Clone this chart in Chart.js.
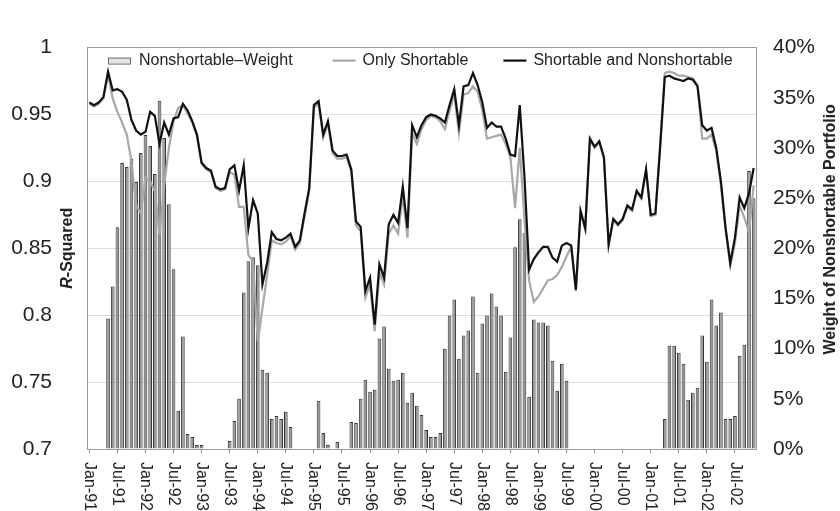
<!DOCTYPE html>
<html>
<head>
<meta charset="utf-8">
<script src="https://cdn.jsdelivr.net/npm/chart.js@4.4.1/dist/chart.umd.min.js"></script>
<style>
  html, body { margin: 0; padding: 0; background: #ffffff; }
  canvas { display: block; }
</style>
</head>
<body>
<canvas id="chart" width="840" height="511"></canvas>
<script>
// Monthly categories, Jan-91 through Nov-02
const monthNames = ['Jan','Feb','Mar','Apr','May','Jun','Jul','Aug','Sep','Oct','Nov','Dec'];
const firstYear = 1991;
const monthCount = 143;
const categories = [];
for (let k = 0; k < monthCount; k++) {
  const yr = firstYear + Math.floor(k / 12);
  categories.push(monthNames[k % 12] + '-' + String(yr % 100).padStart(2, '0'));
}

// Weight of the nonshortable portfolio (%), one row per year
const nonshortableWeight = [
  0, 0, 0, 0, 13.0, 16.2, 22.1, 28.5, 28.1, 28.9, 26.6, 29.5,
  31.3, 30.2, 27.4, 34.7, 31.0, 24.4, 17.9, 3.8, 11.2, 1.5, 1.2, 0.4,
  0.4, 0, 0, 0, 0, 0, 0.8, 2.8, 5.0, 15.6, 18.7, 19.1,
  18.3, 7.9, 7.6, 3.0, 3.3, 3.0, 3.7, 2.2, 0, 0, 0, 0,
  0, 4.8, 1.6, 0.4, 0, 0.7, 0, 0, 2.7, 2.6, 5.0, 6.9,
  5.7, 5.9, 11.0, 12.2, 8.0, 6.8, 6.9, 7.6, 4.6, 5.6, 4.3, 3.4,
  1.9, 1.2, 1.2, 1.6, 10.0, 13.3, 14.9, 9.0, 11.3, 11.8, 15.2, 7.6,
  12.5, 13.3, 15.5, 14.2, 13.3, 7.7, 11.1, 20.1, 22.9, 21.5, 5.2, 12.9,
  12.6, 12.6, 12.3, 8.8, 5.8, 8.5, 6.8, 0, 0, 0, 0, 0,
  0, 0, 0, 0, 0, 0, 0, 0, 0, 0, 0, 0,
  0, 0, 0, 3.0, 10.3, 10.3, 9.6, 8.5, 4.9, 5.6, 6.1, 11.3,
  8.7, 14.9, 12.3, 13.6, 3.0, 3.0, 3.3, 9.3, 10.4, 27.7, 25.0
];

// R-squared using only shortable assets
const onlyShortable = [
  0.958, 0.956, 0.958, 0.962, 0.980, 0.962, 0.952, 0.944, 0.935, 0.915, 0.882, 0.876,
  0.903, 0.900, 0.893, 0.860, 0.897, 0.925, 0.945, 0.955, 0.957, 0.951, 0.944, 0.934,
  0.913, 0.909, 0.907, 0.895, 0.893, 0.894, 0.907, 0.905, 0.881, 0.881, 0.845, 0.840,
  0.780, 0.805, 0.830, 0.856, 0.854, 0.853, 0.855, 0.859, 0.849, 0.854, 0.874, 0.893,
  0.955, 0.958, 0.933, 0.943, 0.921, 0.917, 0.917, 0.918, 0.907, 0.867, 0.863, 0.813,
  0.823, 0.788, 0.832, 0.823, 0.861, 0.867, 0.861, 0.889, 0.858, 0.936, 0.928, 0.939,
  0.946, 0.949, 0.948, 0.945, 0.939, 0.953, 0.965, 0.936, 0.965, 0.966, 0.971, 0.967,
  0.953, 0.932, 0.933, 0.934, 0.935, 0.928, 0.918, 0.880, 0.925, 0.872, 0.826, 0.810,
  0.814, 0.820, 0.826, 0.827, 0.830, 0.836, 0.844, 0.851, 0.818, 0.877, 0.864, 0.931,
  0.925, 0.929, 0.917, 0.852, 0.871, 0.867, 0.871, 0.881, 0.878, 0.892, 0.887, 0.908,
  0.874, 0.875, 0.927, 0.981, 0.982, 0.981, 0.979, 0.979, 0.978, 0.977, 0.972, 0.932,
  0.932, 0.935, 0.923, 0.897, 0.864, 0.837, 0.854, 0.882, 0.873, 0.862, 0.897
];

// R-squared using shortable and nonshortable assets
const shortableAndNonshortable = [
  0.959, 0.957, 0.959, 0.963, 0.982, 0.968, 0.969, 0.967, 0.961, 0.946, 0.938, 0.935,
  0.937, 0.952, 0.949, 0.928, 0.944, 0.935, 0.947, 0.948, 0.958, 0.953, 0.945, 0.935,
  0.914, 0.910, 0.908, 0.896, 0.894, 0.895, 0.909, 0.912, 0.893, 0.912, 0.865, 0.886,
  0.876, 0.823, 0.839, 0.862, 0.857, 0.856, 0.858, 0.861, 0.851, 0.856, 0.876, 0.895,
  0.957, 0.960, 0.935, 0.945, 0.923, 0.919, 0.919, 0.920, 0.909, 0.870, 0.866, 0.818,
  0.828, 0.793, 0.838, 0.828, 0.868, 0.875, 0.869, 0.896, 0.865, 0.942, 0.933, 0.942,
  0.948, 0.950, 0.949, 0.947, 0.944, 0.957, 0.969, 0.942, 0.971, 0.972, 0.981, 0.972,
  0.959, 0.940, 0.944, 0.941, 0.941, 0.932, 0.920, 0.919, 0.957, 0.904, 0.834, 0.842,
  0.847, 0.851, 0.851, 0.843, 0.840, 0.852, 0.854, 0.852, 0.819, 0.878, 0.865, 0.932,
  0.926, 0.930, 0.918, 0.853, 0.872, 0.868, 0.872, 0.882, 0.879, 0.893, 0.888, 0.909,
  0.875, 0.876, 0.925, 0.978, 0.979, 0.977, 0.976, 0.975, 0.977, 0.976, 0.971, 0.942,
  0.938, 0.940, 0.925, 0.900, 0.865, 0.839, 0.858, 0.888, 0.880, 0.891, 0.910
];

// Axis tick labels
const leftTickLabels = ['0.7', '0.75', '0.8', '0.85', '0.9', '0.95', '1'];
const rightTickLabels = ['0%', '5%', '10%', '15%', '20%', '25%', '30%', '35%', '40%'];
const xLabelEvery = 6;

const FONT = '"Liberation Sans", Arial, Helvetica, sans-serif';
const TEXT = '#222222';
const FRAME = '#9a9a9a';
Chart.defaults.font.family = FONT;

// Month labels under the axis, turned to read top-to-bottom
const monthLabels = {
  id: 'monthLabels',
  afterDraw(chart) {
    const ctx = chart.ctx, xs = chart.scales.x, area = chart.chartArea;
    ctx.save();
    ctx.font = '16px ' + FONT;
    ctx.fillStyle = TEXT;
    ctx.textAlign = 'left';
    ctx.textBaseline = 'middle';
    categories.forEach((lab, i) => {
      if (i % xLabelEvery !== 0) return;
      const x = xs.getPixelForValue(i);
      ctx.save();
      ctx.translate(x, area.bottom + 13);
      ctx.rotate(Math.PI / 2);
      ctx.fillText(lab, 0, 0);
      ctx.restore();
    });
    ctx.restore();
  }
};

// Axis titles: left one sits between the tick labels and the frame
const axisTitles = {
  id: 'axisTitles',
  afterDraw(chart) {
    const ctx = chart.ctx, a = chart.chartArea;
    ctx.save();
    ctx.fillStyle = TEXT;
    ctx.textBaseline = 'middle';
    ctx.textAlign = 'left';
    // R-Squared (italic R)
    const cy = (a.top + a.bottom) / 2;
    ctx.translate(a.left - 19, cy);
    ctx.rotate(-Math.PI / 2);
    ctx.font = 'italic bold 16px ' + FONT;
    const wR = ctx.measureText('R').width;
    ctx.font = 'bold 16px ' + FONT;
    const wRest = ctx.measureText('-Squared').width;
    const sx = -(wR + wRest) / 2;
    ctx.font = 'italic bold 16px ' + FONT;
    ctx.fillText('R', sx, 0);
    ctx.font = 'bold 16px ' + FONT;
    ctx.fillText('-Squared', sx + wR, 0);
    ctx.restore();

    ctx.save();
    ctx.fillStyle = TEXT;
    ctx.textBaseline = 'middle';
    ctx.textAlign = 'center';
    ctx.font = 'bold 16px ' + FONT;
    ctx.translate(a.right + 75, cy - 19);
    ctx.rotate(-Math.PI / 2);
    ctx.fillText('Weight of Nonshortable Portfolio', 0, 0);
    ctx.restore();
  }
};

// Legend drawn inside the top of the plot frame
const insideLegend = {
  id: 'insideLegend',
  afterDraw(chart) {
    const ctx = chart.ctx, a = chart.chartArea;
    const ds = chart.data.datasets;
    const gaps = [40, 35];
    let x = a.left + 21;
    const y = a.top + 13;
    ctx.save();
    ctx.font = '16px ' + FONT;
    ctx.textBaseline = 'middle';
    ctx.textAlign = 'left';
    ds.forEach((d, i) => {
      if (d.type === 'bar') {
        ctx.fillStyle = '#e4e4e4';
        ctx.fillRect(x, y - 3, 22, 6);
        ctx.strokeStyle = '#6f6f6f';
        ctx.lineWidth = 1;
        ctx.strokeRect(x + 0.5, y - 2.5, 22, 6);
        x += 31;
      } else {
        ctx.strokeStyle = d.borderColor;
        ctx.lineWidth = d.borderWidth;
        ctx.beginPath();
        ctx.moveTo(x, y);
        ctx.lineTo(x + 23, y);
        ctx.stroke();
        x += 30;
      }
      ctx.fillStyle = TEXT;
      ctx.fillText(d.label, x, y);
      x += ctx.measureText(d.label).width + (gaps[i] || 0);
    });
    ctx.restore();
  }
};

new Chart(document.getElementById('chart'), {
  data: {
    labels: categories,
    datasets: [
      {
        type: 'bar',
        label: 'Nonshortable\u2013Weight',
        data: nonshortableWeight,
        yAxisID: 'y1',
        backgroundColor: '#979797',
        borderColor: '#353535',
        borderWidth: 1,
        barPercentage: 0.78,
        categoryPercentage: 1,
        order: 3
      },
      {
        type: 'line',
        label: 'Only Shortable',
        data: onlyShortable,
        yAxisID: 'y',
        borderColor: '#a8a8a8',
        borderWidth: 2.2,
        pointRadius: 0,
        tension: 0,
        order: 2
      },
      {
        type: 'line',
        label: 'Shortable and Nonshortable',
        data: shortableAndNonshortable,
        yAxisID: 'y',
        borderColor: '#111111',
        borderWidth: 2.2,
        pointRadius: 0,
        tension: 0,
        order: 1
      }
    ]
  },
  options: {
    responsive: false,
    devicePixelRatio: 1,
    animation: false,
    layout: { padding: { top: 17, left: 0, right: 0, bottom: 0 } },
    plugins: { legend: { display: false }, tooltip: { enabled: false } },
    scales: {
      x: {
        type: 'category',
        offset: true,
        ticks: { display: false, autoSkip: false },
        grid: {
          offset: false,
          drawOnChartArea: false,
          drawTicks: true,
          tickLength: 4,
          color: (c) => (c.index % xLabelEvery === 0 ? '#8c8c8c' : 'rgba(0,0,0,0)')
        },
        border: { color: FRAME },
        afterFit(s) { s.height = 62; }
      },
      y: {
        position: 'left',
        min: 0.7,
        max: 1,
        ticks: {
          stepSize: 0.05,
          padding: 35,
          color: TEXT,
          font: { size: 21 },
          callback: (v, i) => leftTickLabels[i]
        },
        grid: {
          drawTicks: false,
          color: (c) => (c.tick && c.tick.value > 0.999 ? FRAME : '#dedede')
        },
        border: { color: FRAME },
        afterFit(s) { s.width = 87; }
      },
      y1: {
        position: 'right',
        min: 0,
        max: 40,
        ticks: {
          stepSize: 5,
          padding: 17,
          color: TEXT,
          font: { size: 21 },
          callback: (v, i) => rightTickLabels[i]
        },
        grid: { drawOnChartArea: false, drawTicks: false },
        border: { color: FRAME },
        afterFit(s) { s.width = 84; }
      }
    }
  },
  plugins: [monthLabels, axisTitles, insideLegend]
});
</script>
</body>
</html>
